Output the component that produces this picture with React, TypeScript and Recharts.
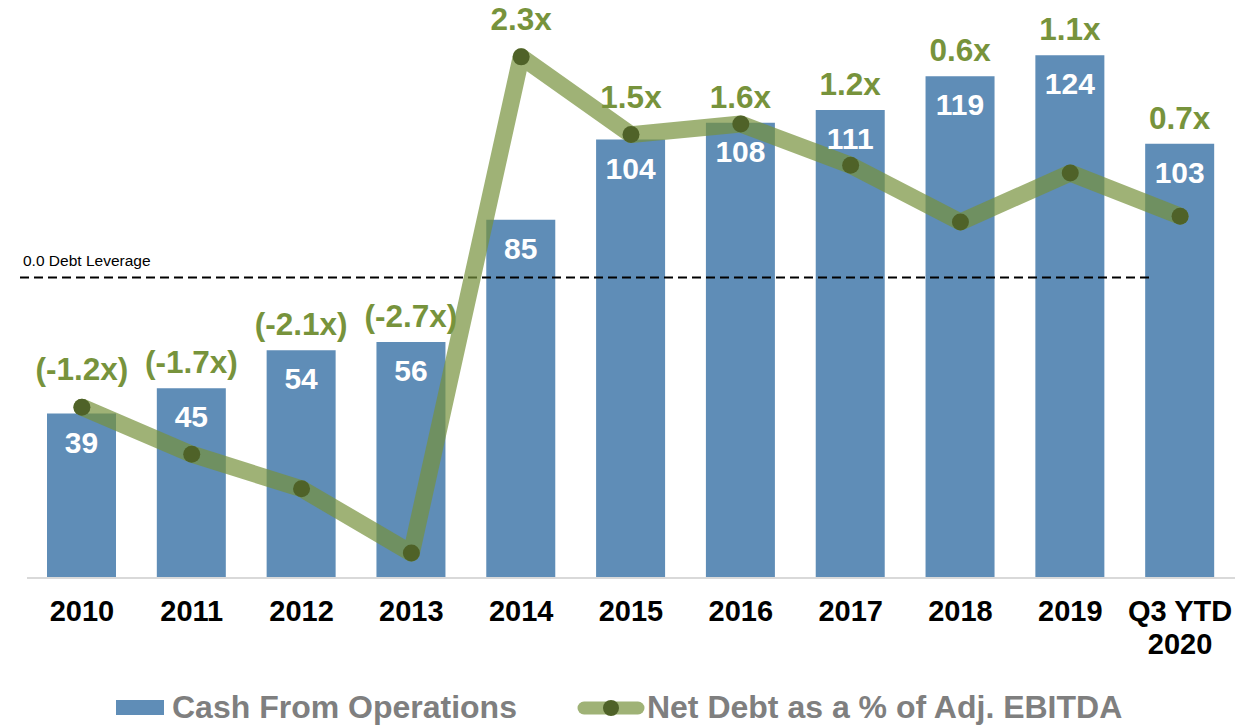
import React from 'react';
import { ComposedChart, Bar, Line, XAxis, YAxis, ReferenceLine, LabelList, Legend } from 'recharts';

const categories = ['2010', '2011', '2012', '2013', '2014', '2015', '2016', '2017', '2018', '2019', 'Q3 YTD 2020'];
const cashFromOps = [39, 45, 54, 56, 85, 104, 108, 111, 119, 124, 103];
const netDebtLeverage = [-1.35, -1.84, -2.2, -2.87, 2.3, 1.49, 1.6, 1.17, 0.58, 1.09, 0.64];
const leverageLabels = ['(-1.2x)', '(-1.7x)', '(-2.1x)', '(-2.7x)', '2.3x', '1.5x', '1.6x', '1.2x', '0.6x', '1.1x', '0.7x'];

const BAR_DOMAIN: [number, number] = [0, 130];
const LINE_DOMAIN: [number, number] = [-3.13, 2.58];

const FONT = '"Liberation Sans", Arial, Helvetica, sans-serif';
const BAR_COLOR = '#5f8db7';
const LINE_COLOR = '#76923c';
const DOT_COLOR = '#4f6228';
const LABEL_GREEN = '#77933c';

const data = categories.map((cat, i) => ({
  cat,
  cash: cashFromOps[i],
  lev: netDebtLeverage[i],
  levLabel: leverageLabels[i],
}));

const frac = (v: number, d: [number, number]) => (v - d[0]) / (d[1] - d[0]);
const labelOnLine = data.map((d) => frac(d.lev, LINE_DOMAIN) > frac(d.cash, BAR_DOMAIN));

const CatTick = (props: any) => {
  const { x, y, payload } = props;
  const words = String(payload.value).split(' ');
  const lines = words.length > 1 ? [words.slice(0, -1).join(' '), words[words.length - 1]] : [words[0]];
  return (
    <text x={x} y={y} textAnchor="middle" fontFamily={FONT} fontWeight="bold" fontSize={29} fill="#000">
      {lines.map((l, i) => (
        <tspan key={i} x={x} dy={i === 0 ? 43 : 33}>
          {l}
        </tspan>
      ))}
    </text>
  );
};

const CashLabel = (props: any) => {
  const { x, y, width, value } = props;
  return (
    <text x={x + width / 2} y={y + 39} textAnchor="middle" fontFamily={FONT} fontWeight="bold" fontSize={30} fill="#fff">
      {value}
    </text>
  );
};

const BarLevLabel = (props: any) => {
  const { x, y, width, value, index } = props;
  if (labelOnLine[index]) return null;
  return (
    <text x={x + width / 2} y={y - 15} textAnchor="middle" fontFamily={FONT} fontWeight="bold" fontSize={31.5} fill={LABEL_GREEN}>
      {value}
    </text>
  );
};

const LineLevLabel = (props: any) => {
  const { x, y, value, index } = props;
  if (!labelOnLine[index]) return null;
  return (
    <text x={x} y={y - 27} textAnchor="middle" fontFamily={FONT} fontWeight="bold" fontSize={31.5} fill={LABEL_GREEN}>
      {value}
    </text>
  );
};

const ZeroLine = (p: any) => (
  <g>
    <line x1={p.x1 - 7} y1={p.y1} x2={p.x2 - 81} y2={p.y2} stroke="#000" strokeWidth={2} strokeDasharray="9 5" />
    <text x={p.x1 - 4} y={p.y1 - 12} fontSize={15.5} fill="#000" fontFamily={FONT}>
      0.0 Debt Leverage
    </text>
  </g>
);

const LegendContent = () => (
  <div
    style={{
      height: 45,
      display: 'flex',
      alignItems: 'center',
      paddingLeft: 116,
      paddingTop: 10,
      boxSizing: 'border-box',
      fontFamily: FONT,
      fontWeight: 'bold',
      fontSize: 32,
      color: '#7f7f7f',
      whiteSpace: 'nowrap',
    }}
  >
    <div style={{ width: 48, height: 15, background: BAR_COLOR, marginRight: 8 }} />
    <span>Cash From Operations</span>
    <svg width={68} height={20} style={{ marginLeft: 60, marginRight: 2 }}>
      <line x1={7} y1={10} x2={61} y2={10} stroke={LINE_COLOR} strokeOpacity={0.7} strokeWidth={13} strokeLinecap="round" />
      <circle cx={34} cy={10} r={8} fill={DOT_COLOR} />
    </svg>
    <span>Net Debt as a % of Adj. EBITDA</span>
  </div>
);

export default function App() {
  return (
    <div style={{ position: 'absolute', left: 0, top: 0, width: 1258, height: 725, fontFamily: FONT, background: '#fff' }}>
      <ComposedChart width={1258} height={725} data={data} margin={{ top: 30, right: 23, bottom: 0, left: 27 }}>
        <XAxis
          dataKey="cat"
          interval={0}
          tickLine={false}
          tickSize={0}
          tickMargin={0}
          height={102}
          axisLine={{ stroke: '#d9d9d9', strokeWidth: 2 }}
          tick={<CatTick />}
        />
        <YAxis yAxisId="bar" hide domain={BAR_DOMAIN} allowDataOverflow />
        <YAxis yAxisId="line" hide domain={LINE_DOMAIN} allowDataOverflow />
        <ReferenceLine yAxisId="line" y={0} ifOverflow="visible" shape={ZeroLine} />
        <Bar yAxisId="bar" dataKey="cash" fill={BAR_COLOR} barSize={69} isAnimationActive={false}>
          <LabelList dataKey="cash" content={CashLabel} />
          <LabelList dataKey="levLabel" content={BarLevLabel} />
        </Bar>
        <Line
          yAxisId="line"
          dataKey="lev"
          stroke={LINE_COLOR}
          strokeOpacity={0.7}
          strokeWidth={17}
          strokeLinecap="round"
          strokeLinejoin="round"
          dot={{ r: 8.5, fill: DOT_COLOR, stroke: 'none', strokeWidth: 0, fillOpacity: 1 }}
          activeDot={false}
          isAnimationActive={false}
        >
          <LabelList dataKey="levLabel" content={LineLevLabel} />
        </Line>
        <Legend verticalAlign="bottom" height={45} wrapperStyle={{ left: 0, width: 1258 }} content={LegendContent} />
      </ComposedChart>
    </div>
  );
}
